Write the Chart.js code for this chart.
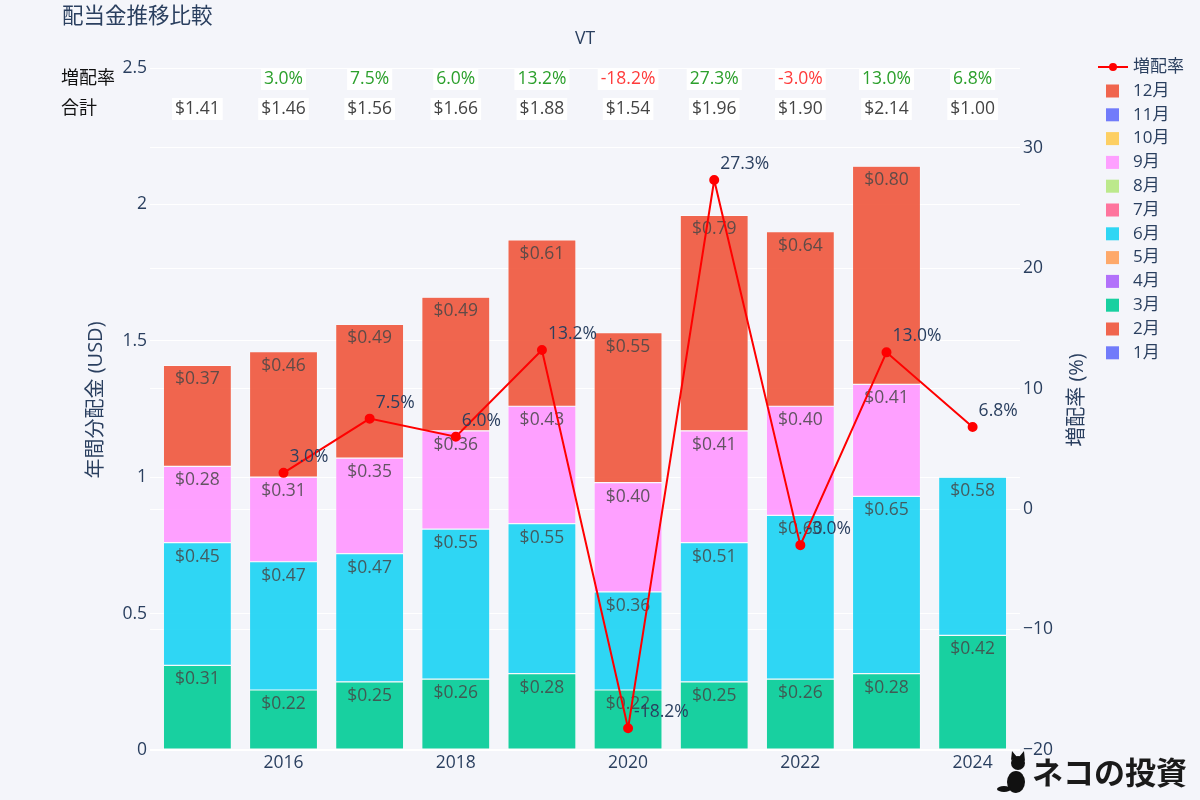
<!DOCTYPE html>
<html>
<head>
<meta charset="utf-8">
<title>配当金推移比較</title>
<script src="https://cdn.jsdelivr.net/npm/chart.js@4.4.1/dist/chart.umd.min.js"></script>
<style>
  body { margin: 0; background: #f4f5fa; }
  #wrap { position: relative; width: 1200px; height: 800px; }
</style>
</head>
<body>
<div id="wrap"><canvas id="divChart" width="1200" height="800"></canvas></div>
<script>
const FONT = '"Open Sans", "Noto Sans CJK JP", sans-serif';

// data
const years = [2015, 2016, 2017, 2018, 2019, 2020, 2021, 2022, 2023, 2024];
const monthLabels = ["1月", "2月", "3月", "4月", "5月", "6月", "7月", "8月", "9月", "10月", "11月", "12月"];
const monthColors = ["#636efa", "#EF553B", "#00cc96", "#ab63fa", "#FFA15A", "#19d3f3",
                     "#FF6692", "#B6E880", "#FF97FF", "#FECB52", "#636efa", "#EF553B"];
const march     = [0.31, 0.22, 0.25, 0.26, 0.28, 0.22, 0.25, 0.26, 0.28, 0.42];
const june      = [0.45, 0.47, 0.47, 0.55, 0.55, 0.36, 0.51, 0.60, 0.65, 0.58];
const september = [0.28, 0.31, 0.35, 0.36, 0.43, 0.40, 0.41, 0.40, 0.41, null];
const december  = [0.37, 0.46, 0.49, 0.49, 0.61, 0.55, 0.79, 0.64, 0.80, null];
const totals    = [1.41, 1.46, 1.56, 1.66, 1.88, 1.54, 1.96, 1.90, 2.14, 1.00];
const growth    = [null, 3.0, 7.5, 6.0, 13.2, -18.2, 27.3, -3.0, 13.0, 6.8];
const leftTicks = [0, 0.5, 1, 1.5, 2, 2.5];

// months without payouts stay empty
const monthValues = [[], [], march, [], [], june, [], [], september, [], [], december];

function alpha(hex, a) {
  const n = parseInt(hex.slice(1), 16);
  return `rgba(${(n >> 16) & 255},${(n >> 8) & 255},${n & 255},${a})`;
}

const barSets = monthLabels.map((label, m) => ({
  label: label,
  data: monthValues[m]
    .map((v, i) => ({ x: years[i], y: v }))
    .filter(p => p.y != null),
  backgroundColor: alpha(monthColors[m], 0.9),
  borderColor: "rgba(255,255,255,0.9)",
  borderWidth: 0.6,
  borderSkipped: false,
  categoryPercentage: 1,
  barPercentage: 0.79,
  yAxisID: "y",
  order: 1,
}));

const lineSet = {
  type: "line",
  label: "増配率",
  data: growth.map((v, i) => ({ x: years[i], y: v })),
  borderColor: "#ff0000",
  backgroundColor: "#ff0000",
  borderWidth: 2,
  pointRadius: 4,
  pointHoverRadius: 4,
  tension: 0,
  yAxisID: "y2",
  order: 0,
};

const overlay = {
  id: "overlay",
  beforeDraw(chart) {
    const ctx = chart.ctx;
    ctx.save();
    ctx.fillStyle = "#f4f5fa";
    ctx.fillRect(0, 0, chart.width, chart.height);
    ctx.restore();
  },
  afterDatasetDraw(chart, args) {
    const ctx = chart.ctx;
    const ds = chart.data.datasets[args.index];
    ctx.save();
    ctx.font = "17.5px " + FONT;
    ctx.textBaseline = "middle";
    if (ds.type === "line") {
      ctx.fillStyle = "#2a3f5f";
      ctx.textAlign = "left";
      args.meta.data.forEach((pt, i) => {
        const v = growth[i];
        if (v == null) return;
        ctx.fillText(v.toFixed(1) + "%", pt.x + 6, pt.y - 16);
      });
    } else {
      ctx.fillStyle = "rgba(70,70,70,0.85)";
      ctx.textAlign = "center";
      args.meta.data.forEach((bar, i) => {
        const v = ds.data[i].y;
        ctx.fillText("$" + v.toFixed(2), bar.x, bar.y + 14);
      });
    }
    ctx.restore();
  },
  afterDraw(chart) {
    const ctx = chart.ctx;
    const xs = chart.scales.x;
    ctx.save();

    // titles
    ctx.fillStyle = "#2a3f5f";
    ctx.textBaseline = "middle";
    ctx.font = "21.5px " + FONT;
    ctx.textAlign = "left";
    ctx.fillText("配当金推移比較", 62, 17);
    ctx.font = "17.5px " + FONT;
    ctx.textAlign = "center";
    ctx.fillText("VT", 585, 39);

    // axis titles
    ctx.font = "20px " + FONT;
    ctx.save();
    ctx.translate(96, 400);
    ctx.rotate(-Math.PI / 2);
    ctx.fillText("年間分配金 (USD)", 0, 0);
    ctx.restore();
    ctx.save();
    ctx.translate(1077, 400);
    ctx.rotate(-Math.PI / 2);
    ctx.fillText("増配率 (%)", 0, 0);
    ctx.restore();

    // summary rows
    ctx.font = "18px " + FONT;
    ctx.textAlign = "left";
    ctx.fillStyle = "#111";
    ctx.fillText("増配率", 61, 79);
    ctx.fillText("合計", 61, 109);

    ctx.font = "17.5px " + FONT;
    ctx.textAlign = "center";
    years.forEach((yr, i) => {
      const x = xs.getPixelForValue(yr);
      const g = growth[i];
      if (g != null) {
        const t = g.toFixed(1) + "%";
        const w = ctx.measureText(t).width + 6;
        ctx.fillStyle = "#ffffff";
        ctx.fillRect(x - w / 2, 68, w, 22);
        ctx.fillStyle = g >= 0 ? "#2ca02c" : "#ff3b3b";
        ctx.fillText(t, x, 79);
      }
      const t2 = "$" + totals[i].toFixed(2);
      const w2 = ctx.measureText(t2).width + 6;
      ctx.fillStyle = "#ffffff";
      ctx.fillRect(x - w2 / 2, 98, w2, 22);
      ctx.fillStyle = "#444";
      ctx.fillText(t2, x, 109);
    });

    // legend
    ctx.textAlign = "left";
    ctx.font = "17px " + FONT;
    ctx.strokeStyle = "#ff0000";
    ctx.lineWidth = 2;
    ctx.beginPath();
    ctx.moveTo(1098, 67);
    ctx.lineTo(1128, 67);
    ctx.stroke();
    ctx.fillStyle = "#ff0000";
    ctx.beginPath();
    ctx.arc(1113, 67, 4, 0, Math.PI * 2);
    ctx.fill();
    ctx.fillStyle = "#2a3f5f";
    ctx.fillText("増配率", 1133, 67);
    for (let k = 0; k < 12; k++) {
      const m = 11 - k;
      const y = 91 + k * 23.8;
      ctx.fillStyle = alpha(monthColors[m], 0.9);
      ctx.fillRect(1106, y - 6.5, 13, 13);
      ctx.fillStyle = "#2a3f5f";
      ctx.fillText(monthLabels[m], 1133, y);
    }

    // logo
    ctx.fillStyle = "#111";
    ctx.beginPath();
    ctx.ellipse(1016, 782, 9, 11, 0, 0, Math.PI * 2);
    ctx.fill();
    ctx.beginPath();
    ctx.arc(1018, 763, 7, 0, Math.PI * 2);
    ctx.fill();
    ctx.beginPath();
    ctx.moveTo(1011, 760); ctx.lineTo(1012, 751); ctx.lineTo(1017, 757);
    ctx.moveTo(1019, 757); ctx.lineTo(1024, 751); ctx.lineTo(1025, 761);
    ctx.fill();
    ctx.beginPath();
    ctx.ellipse(1004, 789, 7, 3, 0, 0, Math.PI * 2);
    ctx.fill();
    ctx.font = "bold 31px " + FONT;
    ctx.fillStyle = "#1a1a1a";
    ctx.fillText("ネコの投資", 1032, 775);

    ctx.restore();
  },
};

const ctx = document.getElementById("divChart").getContext("2d");
Chart.defaults.font.family = FONT;
Chart.defaults.color = "#2a3f5f";

const divChart = new Chart(ctx, {
  type: "bar",
  data: { datasets: barSets.concat([lineSet]) },
  options: {
    responsive: false,
    animation: false,
    layout: { padding: { top: 68, left: 0, right: 0, bottom: 0 } },
    plugins: { legend: { display: false }, tooltip: { enabled: false } },
    scales: {
      x: {
        type: "linear",
        stacked: true,
        offset: false,
        min: 2014.45,
        max: 2024.55,
        grid: { display: false, drawTicks: false },
        border: { display: false },
        ticks: {
          stepSize: 2,
          includeBounds: false,
          padding: 3,
          font: { size: 17.5 },
          color: "#2a3f5f",
          callback: v => String(v),
        },
        afterFit: s => { s.height = 50; },
      },
      y: {
        position: "left",
        stacked: true,
        min: 0,
        max: 2.5,
        afterBuildTicks: s => { s.ticks = leftTicks.map(v => ({ value: v })); },
        grid: {
          color: "#ffffff",
          lineWidth: c => (c.tick && c.tick.value === 0 ? 2 : 1),
          drawTicks: false,
        },
        border: { display: false },
        ticks: { padding: 3, font: { size: 17.5 }, color: "#2a3f5f", callback: v => String(v) },
        afterFit: s => { s.width = 150; },
      },
      y2: {
        position: "right",
        min: -20,
        max: 36.6,
        grid: { color: "#ffffff", drawTicks: false },
        border: { display: false },
        ticks: {
          stepSize: 10,
          includeBounds: false,
          padding: 3,
          font: { size: 17.5 },
          color: "#2a3f5f",
          callback: v => (v < 0 ? "\u2212" + Math.abs(v) : String(v)),
        },
        afterFit: s => { s.width = 180; },
      },
    },
  },
  plugins: [overlay],
});
</script>
</body>
</html>
